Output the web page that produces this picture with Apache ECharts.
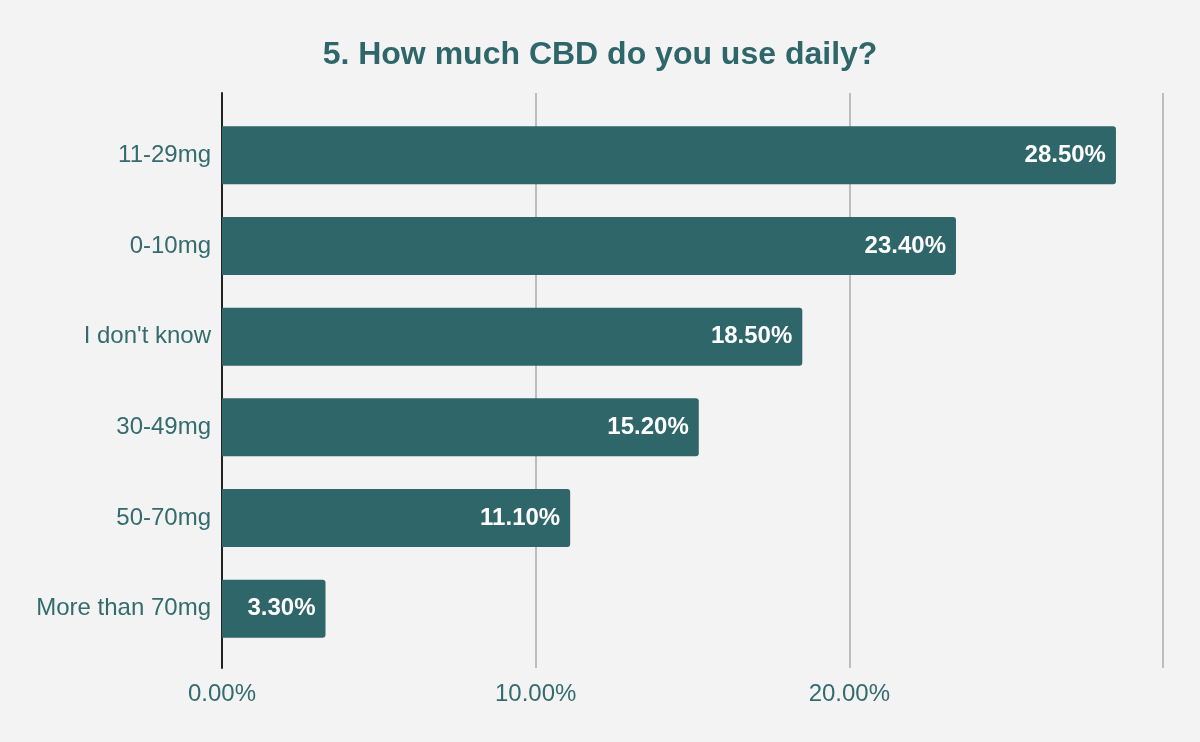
<!DOCTYPE html>
<html><head><meta charset="utf-8">
<script src="https://cdn.jsdelivr.net/npm/echarts@6/dist/echarts.min.js"></script>
<style>html,body{margin:0;padding:0;background:#f3f3f3;}#c{width:1200px;height:742px;}</style>
</head><body><div id="c"></div>
<script>
const categories = ["11-29mg", "0-10mg", "I don't know", "30-49mg", "50-70mg", "More than 70mg"];
const values = [28.5, 23.4, 18.5, 15.2, 11.1, 3.3];
const xTicks = [0, 10, 20, 30];
const title = "5. How much CBD do you use daily?";

const teal = '#2f6669';
const labelTeal = '#346b6e';
const font = 'Arial, "Liberation Sans", sans-serif';
const chart = echarts.init(document.getElementById('c'));
chart.setOption({
  backgroundColor: '#f3f3f3',
  animation: false,
  title: {text: title, left: 'center', top: 34,
    textStyle: {color: teal, fontSize: 32, fontWeight: 'bold', fontFamily: font}},
  grid: [
    {left: 222, right: 37, top: 93, bottom: 74},
    {left: 222, right: 37, top: 110, bottom: 88}
  ],
  xAxis: [
    {gridIndex: 0, type: 'value', min: xTicks[0], max: xTicks[xTicks.length-1], interval: 10,
      axisLine: {show: false}, axisTick: {show: false},
      splitLine: {show: true, lineStyle: {color: '#bdbdbd', width: 2}},
      axisLabel: {showMaxLabel: false, margin: 14, color: labelTeal, fontSize: 24, fontFamily: font,
        formatter: v => v.toFixed(2) + '%'}},
    {gridIndex: 1, type: 'value', min: xTicks[0], max: xTicks[xTicks.length-1], interval: 10, show: false}
  ],
  yAxis: [
    {gridIndex: 0, type: 'value', min: 0, max: 1, axisLabel: {show: false}, axisTick: {show: false},
      splitLine: {show: false}, axisLine: {show: true, lineStyle: {color: '#222', width: 2}}},
    {gridIndex: 1, type: 'category', data: categories, inverse: true,
      axisLine: {show: false}, axisTick: {show: false},
      axisLabel: {margin: 11, color: labelTeal, fontSize: 24, fontFamily: font}}
  ],
  series: [{
    type: 'bar', xAxisIndex: 1, yAxisIndex: 1, data: values, barWidth: 58, z: 3,
    itemStyle: {color: teal, borderRadius: [0, 3, 3, 0]},
    label: {show: true, position: 'insideRight', distance: 10, color: '#fff', fontWeight: 'bold',
      fontSize: 24, fontFamily: font, formatter: p => p.value.toFixed(2) + '%'}
  }]
});
</script></body></html>
